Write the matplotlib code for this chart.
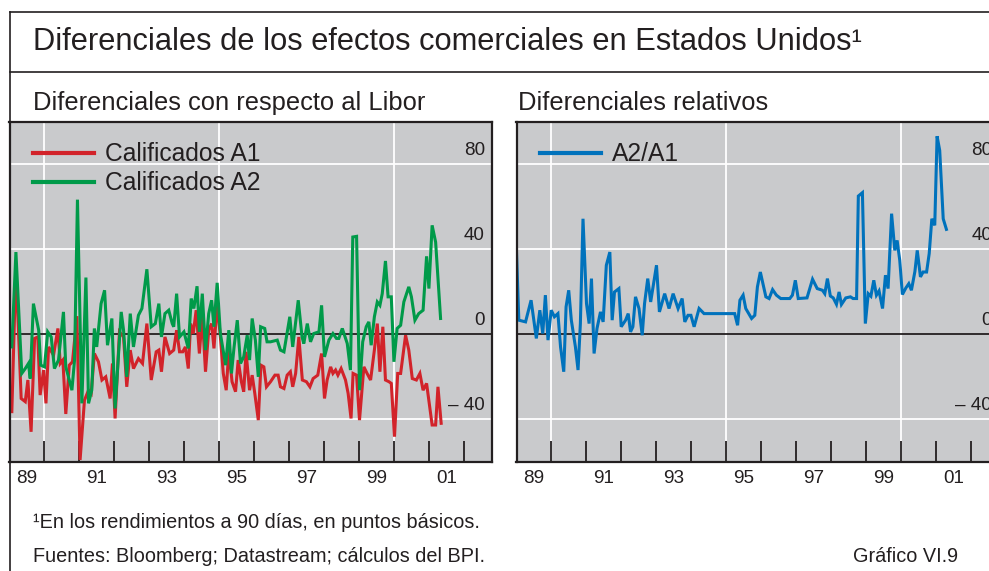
import matplotlib
matplotlib.use('Agg')
import matplotlib.pyplot as plt
import matplotlib.transforms as mtransforms
from matplotlib.lines import Line2D
import numpy as np

plt.rcParams['font.family'] = ['Liberation Sans', 'DejaVu Sans']

# ---------------- data (months since Jan 1989, basis points) ----------------
a1_months = [0.8, 2.2, 4.0, 5.4, 6.3, 7.4, 8.6, 9.7, 10.5, 11.7, 12.5, 13.4, 15.1, 16.6, 17.4, 18.3,
             19.3, 20.5, 21.6, 23.1, 24.2, 25.7, 27.1, 28.0, 29.1, 30.5, 31.7, 33.0, 34.5, 35.3, 36.2,
             37.7, 39.1, 40.2, 41.4, 42.5, 44.2, 45.6, 47.1, 48.6, 50.3, 51.2, 52.1, 53.3, 54.9, 56.3,
             57.3, 58.3, 59.4, 60.3, 61.3, 62.1, 63.0, 64.0, 65.1, 66.1, 67.2, 68.3, 69.3, 70.1, 71.2,
             72.3, 73.3, 74.3, 75.2, 76.3, 77.5, 78.4, 79.5, 80.3, 81.1, 82.3, 83.2, 84.1, 85.3, 86.2,
             87.2, 88.1, 89.5, 91.0, 92.1, 92.9, 94.1, 95.2, 96.3, 97.1, 98.1, 99.2, 100.4, 101.8,
             103.0, 104.1, 105.7, 107.0, 108.0, 108.9, 110.1, 110.9, 111.8, 112.6, 113.7, 115.2,
             116.1, 117.1, 117.8, 119.0, 120.0, 121.5, 122.6, 123.8, 125.1, 126.1, 127.0, 128.0,
             128.9, 130.1, 130.9, 132.0, 133.1, 134.1, 135.8, 136.9, 138.1, 139.5, 140.7, 141.8,
             143.0, 144.9, 146.1, 146.9, 148.0]
a1_values = [-36.5, 31.7, -30.3, -31.8, -21.6, -46.0, -2.0, -1.3, -28.7, -16.9, -32.6, -6.0, -9.9, 2.7,
             -13.8, -12.2, -37.6, -14.6, -13.0, 8.5, -59.3, -31.1, -26.4, -27.9, -9.1, -13.0, -21.6,
             -20.1, -30.3, -13.8, -39.7, 1.1, -1.3, -24.8, -7.5, -16.2, -11.5, -13.8, 5.0, -21.6, -8.3,
             -7.5, -17.7, -1.3, -9.1, -7.5, 1.9, -8.3, -8.3, -6.0, -16.2, 5.0, 0.3, 11.3, -9.1, 8.9,
             -17.7, 1.9, 5.0, -6.7, 14.4, -1.3, -18.5, -26.4, -7.5, -22.4, -27.1, -12.2, -22.4, -27.1,
             -8.3, -26.4, -19.3, -27.9, -40.5, -14.6, -15.4, -24.8, -22.4, -19.3, -19.3, -24.8, -25.6,
             -19.3, -17.7, -24.8, -18.5, -1.3, -21.6, -22.4, -24.8, -20.9, -19.3, -9.1, -30.3, -21.6,
             -15.4, -18.5, -16.9, -19.3, -16.2, -21.6, -27.9, -39.7, -18.5, -19.3, -40.5, -15.4, -18.5,
             -21.6, -7.5, 5.0, -17.7, 3.5, -21.6, -22.4, -23.2, -48.3, -18.5, -18.5, -0.5, -7.5, -20.9,
             -21.6, -18.5, -26.4, -23.2, -42.8, -42.8, -24.8, -42.0]

a2_months = [0.8, 2.2, 4.2, 5.4, 6.5, 7.1, 8.2, 10.0, 10.7, 12.0, 13.1, 14.3, 15.4, 16.8, 18.5, 19.3,
             21.4, 22.3, 23.3, 24.8, 26.2, 27.1, 28.2, 29.1, 29.9, 31.4, 32.6, 33.6, 35.1, 36.2, 38.3,
             39.1, 40.2, 41.4, 42.5, 44.2, 45.4, 47.1, 48.6, 50.0, 51.2, 52.1, 53.3, 54.6, 55.8, 56.3,
             57.3, 58.3, 59.8, 61.3, 62.3, 63.2, 64.3, 65.1, 66.1, 67.2, 68.3, 69.3, 70.1, 71.2, 72.3,
             74.1, 75.2, 76.1, 77.0, 78.1, 79.2, 80.3, 81.5, 82.3, 83.2, 84.3, 85.3, 86.1, 87.5, 88.3,
             89.5, 91.8, 92.9, 94.1, 96.1, 97.1, 99.0, 100.3, 100.9, 102.1, 103.2, 104.3, 106.1, 107.0,
             108.0, 109.5, 110.9, 112.1, 112.9, 114.1, 115.8, 116.9, 117.7, 119.0, 120.0, 121.1, 122.3,
             123.2, 124.0, 125.1, 126.1, 127.0, 127.8, 128.9, 129.8, 130.9, 131.8, 132.9, 134.1, 135.2,
             136.9, 137.8, 139.0, 140.3, 141.8, 143.0, 143.8, 144.9, 146.1, 147.8]
a2_values = [-6.0, 38.7, -18.5, -16.2, -13.8, -20.9, 14.4, 1.9, -14.6, -15.4, 1.1, -1.3, -16.2, -12.2,
             10.5, -15.4, -26.4, -12.2, 63.4, -32.6, 26.7, -32.6, -26.4, 2.7, -6.0, 14.4, 20.7, -5.2,
             7.4, -35.0, 10.5, 1.9, -20.1, 9.7, -6.0, 8.9, 12.1, 30.6, 3.5, 5.0, 14.4, -1.3, 9.7, 11.3,
             5.0, 3.5, 19.1, -1.3, 1.1, -6.7, 16.8, 12.1, 22.6, 1.1, 19.1, -7.5, 9.7, 16.0, 3.5, 24.2,
             0.3, -14.6, 1.9, -18.5, -6.0, 6.6, -13.8, -10.7, -0.5, -12.2, 7.4, -2.8, -20.1, 3.5, 2.7,
             -3.6, -3.6, -2.8, -7.5, -8.3, 8.2, -6.0, 16.0, -1.3, -4.4, 5.0, -3.6, 0.3, 1.1, 13.6,
             -10.7, -2.8, 0.3, -2.0, -2.0, 2.7, -4.4, -16.9, 45.8, 46.1, -26.4, -3.6, 3.5, 5.8, -5.2,
             8.2, 15.2, 13.6, 19.1, 34.5, 17.6, 17.6, -13.0, 2.7, 4.2, 15.2, 22.3, 17.6, 6.6, 9.7,
             11.3, 36.7, 21.5, 51.3, 43.4, 7.4]

ratio_months = [0.0, 0.8, 3.1, 5.0, 6.8, 8.0, 9.0, 9.9, 10.8, 11.9, 13.0, 14.2, 15.1, 16.2, 17.0, 17.9,
                18.8, 20.2, 21.1, 21.9, 22.8, 24.0, 24.9, 25.7, 26.6, 27.6, 28.8, 29.7, 30.8, 32.0,
                32.8, 33.6, 35.1, 35.9, 37.4, 38.3, 39.1, 39.9, 40.8, 42.0, 43.1, 43.9, 45.0, 46.0,
                48.0, 49.0, 50.8, 52.3, 53.7, 55.4, 56.8, 57.7, 58.8, 59.8, 60.9, 62.6, 64.3, 74.8,
                75.8, 76.6, 77.7, 78.6, 80.6, 81.7, 82.6, 83.6, 85.5, 86.6, 87.8, 89.1, 90.6, 93.7,
                94.6, 95.6, 96.6, 99.6, 101.5, 103.1, 104.9, 105.7, 106.6, 107.6, 108.6, 109.7, 110.6,
                111.4, 112.9, 114.5, 115.4, 116.6, 117.2, 118.6, 119.6, 120.6, 121.5, 122.5, 123.4,
                124.3, 125.5, 126.5, 127.4, 128.6, 129.7, 130.5, 131.4, 132.3, 133.5, 134.5, 135.4,
                136.6, 137.4, 138.5, 139.4, 140.6, 141.5, 142.4, 143.4, 144.2, 145.1, 146.3, 147.4]
ratio_values = [38.7, 6.6, 5.8, 16.0, -2.0, 11.3, 0.3, 18.4, -2.8, 11.3, 8.2, 9.7, -6.0, -17.7, 12.9,
                20.7, 6.6, -6.0, -16.9, 5.0, 54.4, 14.4, 5.0, 26.2, -9.1, 2.7, 10.5, 5.8, 32.5, 38.7,
                6.6, 19.9, 21.5, 3.5, 6.6, 9.7, 1.1, 3.5, 17.6, 12.1, -0.5, 14.4, 26.2, 15.2, 32.5,
                10.5, 19.1, 12.1, 19.1, 12.1, 16.8, 5.8, 8.9, 8.9, 3.5, 12.1, 9.7, 9.7, 4.2, 16.0,
                18.4, 12.1, 7.4, 8.9, 22.3, 29.3, 17.6, 16.8, 21.0, 18.4, 16.8, 16.8, 18.4, 25.4, 16.8,
                17.1, 25.9, 21.5, 20.7, 19.1, 26.2, 18.0, 17.1, 14.1, 19.9, 14.0, 17.1, 17.6, 16.8,
                16.8, 65.1, 66.7, 5.0, 19.1, 17.9, 25.4, 18.4, 20.4, 12.1, 27.8, 21.5, 56.8, 39.5, 44.2,
                34.8, 18.7, 21.8, 23.8, 20.7, 29.6, 39.5, 27.0, 29.3, 29.3, 38.0, 54.4, 51.3, 93.3,
                86.6, 54.4, 49.4]

start_year = 1989
year_labels = ['89', '91', '93', '95', '97', '99', '01']
label_years = [1989, 1991, 1993, 1995, 1997, 1999, 2001]
tick_years = list(range(1990, 2003))
grid_years = [1990, 1995, 2000]
y_ticks = [80, 40, 0, -40]
y_tick_labels = ['80', '40', '0', '– 40']
y_grid = [80, 40, -40]

title = 'Diferenciales de los efectos comerciales en Estados Unidos¹'
sub_left = 'Diferenciales con respecto al Libor'
sub_right = 'Diferenciales relativos'
label_a1 = 'Calificados A1'
label_a2 = 'Calificados A2'
label_ratio = 'A2/A1'
note1 = '¹En los rendimientos a 90 días, en puntos básicos.'
note2 = 'Fuentes: Bloomberg; Datastream; cálculos del BPI.'
chart_id = 'Gráfico VI.9'

# ---------------- style ----------------
BG = '#c9cacc'
DARK = '#231f20'
RED = '#d2232a'
GREEN = '#009a49'
BLUE = '#0072bc'
LW = 2.2

W, H = 989, 571
fig = plt.figure(figsize=(W / 100, H / 100), dpi=100)
fig.patch.set_facecolor('white')


def px_axes(l, t, r, b):
    return fig.add_axes([l / W, 1 - b / H, (r - l) / W, (b - t) / H])


ax1 = px_axes(9.5, 122, 492, 461.5)
ax2 = px_axes(516.5, 122, 999, 461.5)


def style(ax):
    ax.set_facecolor(BG)
    ax.set_xlim(start_year, start_year + 482.5 / 35)
    ax.set_ylim(-60, 100)
    for s in ax.spines.values():
        s.set_color(DARK)
        s.set_linewidth(1.6)
        s.set_zorder(6)
    for g in grid_years:
        ax.axvline(g, color='white', lw=1.3, zorder=1)
    for g in y_grid:
        ax.axhline(g, color='white', lw=1.3, zorder=1)
    ax.axhline(0, color=DARK, lw=1.3, zorder=1.5)
    ax.set_xticks(tick_years)
    ax.set_xticklabels([])
    ax.tick_params(axis='x', which='major', direction='in', length=15, width=1.3,
                   color=DARK, top=False)
    ax.set_xticks([y + 0.5 for y in label_years], minor=True)
    ax.set_xticklabels(year_labels, minor=True)
    ax.tick_params(axis='x', which='minor', length=0, pad=6, labelsize=13.6,
                   labelcolor=DARK)
    ax.set_yticks([])
    trans = mtransforms.blended_transform_factory(ax.transAxes, ax.transData)
    trans = mtransforms.offset_copy(trans, fig=fig, x=-7, y=9, units='dots')
    for v, lab in zip(y_ticks, y_tick_labels):
        ax.text(1.0, v, lab, transform=trans, ha='right', va='baseline',
                fontsize=13.6, color=DARK, zorder=7)


style(ax1)
style(ax2)

x_a1 = start_year + np.array(a1_months) / 12
x_a2 = start_year + np.array(a2_months) / 12
x_r = start_year + np.array(ratio_months) / 12

l1, = ax1.plot(x_a1, a1_values, color=RED, lw=LW, zorder=3, solid_joinstyle='miter')
l2, = ax1.plot(x_a2, a2_values, color=GREEN, lw=LW, zorder=3, solid_joinstyle='miter')
l3, = ax2.plot(x_r, ratio_values, color=BLUE, lw=LW, zorder=3, solid_joinstyle='miter')

leg1 = ax1.legend([l1, l2], [label_a1, label_a2], loc='upper left',
                  bbox_to_anchor=(0.048, 0.94), frameon=False, fontsize=17.7,
                  handlelength=2.5, handletextpad=0.45, labelspacing=0.2,
                  borderaxespad=0, borderpad=0)
leg2 = ax2.legend([l3], [label_ratio], loc='upper left',
                  bbox_to_anchor=(0.048, 0.94), frameon=False, fontsize=17.7,
                  handlelength=2.5, handletextpad=0.45,
                  borderaxespad=0, borderpad=0)
for leg in (leg1, leg2):
    for t in leg.get_texts():
        t.set_color(DARK)
    for h in leg.get_lines():
        h.set_linewidth(3)

# texts
fig.text(33 / W, 1 - 42 / H, title, fontsize=22.2, va='center', ha='left', color=DARK)
fig.text(33 / W, 1 - 103 / H, sub_left, fontsize=18.4, va='center', ha='left', color=DARK)
fig.text(518 / W, 1 - 103 / H, sub_right, fontsize=18.4, va='center', ha='left', color=DARK)
fig.text(33 / W, 1 - 522 / H, note1, fontsize=14.3, va='center', ha='left', color=DARK)
fig.text(33 / W, 1 - 556 / H, note2, fontsize=14.3, va='center', ha='left', color=DARK)
fig.text(958 / W, 1 - 556 / H, chart_id, fontsize=14.3, va='center', ha='right', color=DARK)

# frame
for xs, ys in [([10, 10], [12, 571]), ([10, 989], [12, 12]), ([10, 989], [72, 72])]:
    fig.add_artist(Line2D([x / W for x in xs], [1 - y / H for y in ys], color=DARK, lw=1.2))

fig.savefig('out.png', dpi=100)
